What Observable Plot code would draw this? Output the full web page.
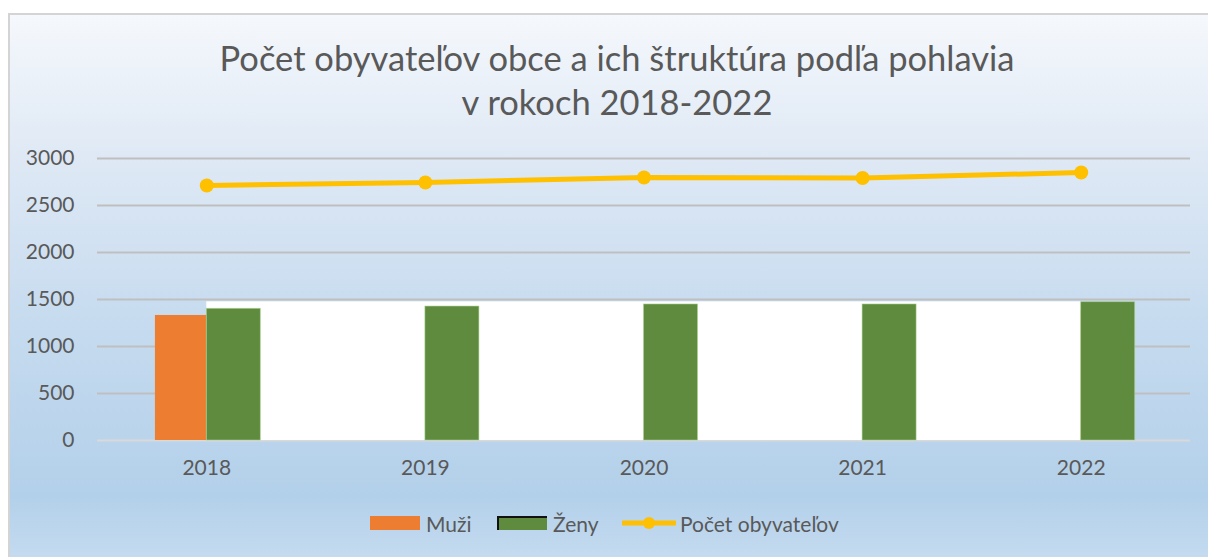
<!DOCTYPE html>
<html>
<head>
<meta charset="utf-8">
<script src="https://cdn.jsdelivr.net/npm/d3@7"></script>
<script src="https://cdn.jsdelivr.net/npm/@observablehq/plot@0.6"></script>
<style>
  html, body { margin: 0; padding: 0; background: #ffffff; }
  body { width: 1208px; height: 557px; overflow: hidden; position: relative; font-family: Lato, "Open Sans", sans-serif; }
  #frame {
    position: absolute; left: 8px; top: 13px; width: 1210px; height: 560px;
    border-left: 2px solid #d4d4d4; border-top: 2px solid #d4d4d4;
    background: linear-gradient(to bottom, #f5f8fc 0%, #dfe9f5 25%, #c6dbef 55%, #b3d0ea 86%, #c9def1 100%);
  }
  #title {
    position: absolute; left: 0; top: 36px; width: 1234px; text-align: center;
    color: #595959; font-size: 34.5px; line-height: 44px;
  }
  #chart { position: absolute; left: 0; top: 130px; }
  #legend {
    position: absolute; top: 508px; left: 0; width: 1208px; height: 30px;
    color: #595959; font-size: 21px;
  }
  .item { position: absolute; top: 0; display: flex; align-items: center; height: 30px; }
  .sw { width: 50px; height: 14px; margin-right: 6px; box-sizing: border-box; }
</style>
</head>
<body>
<div id="frame"></div>
<div id="title">Počet obyvateľov obce a ich štruktúra podľa pohlavia<br>v rokoch 2018-2022</div>
<div id="chart"></div>
<div id="legend">
  <div class="item" style="left:370px"><div class="sw" style="background:#ed7d31"></div><span>Muži</span></div>
  <div class="item" style="left:497px"><div class="sw" style="background:#5e8b3e;border-top:2px solid #111;border-left:2px solid #111"></div><span>Ženy</span></div>
  <div class="item" style="left:622px">
    <svg width="54" height="20" style="margin-right:4px"><line x1="1" y1="10" x2="53" y2="10" stroke="#ffc000" stroke-width="5" stroke-linecap="round"/><circle cx="27" cy="10" r="6" fill="#ffc000"/></svg>
    <span>Počet obyvateľov</span></div>
</div>
<script>
// Data
const years = [2018, 2019, 2020, 2021, 2022];
const muzi = [1330, 1320, 1351, 1346, 1380];
const zeny = [1401, 1425, 1447, 1447, 1471];
const pocet = [2713, 2745, 2798, 2793, 2851];
const yTicks = [0, 500, 1000, 1500, 2000, 2500, 3000];
// white box that hides the later "Muži" bars in the original
const maskFrom = [2018];
const maskTo = [2022];
const maskTop = [1475];

const rows = years.map((y, i) => ({year: y, muzi: muzi[i], zeny: zeny[i], pocet: pocet[i]}));
const mask = maskFrom.map((f, i) => ({from: f, to: maskTo[i], top: maskTop[i]}));
const half = 0.235;

const chart = Plot.plot({
  width: 1208,
  height: 360,
  marginLeft: 97,
  marginRight: 18,
  marginTop: 28,
  marginBottom: 50,
  style: {background: "transparent", fontFamily: "Lato, 'Open Sans', sans-serif", fontSize: "21px", color: "#595959"},
  x: {domain: [2017.5, 2022.5], label: null},
  y: {domain: [0, 3000], label: null},
  marks: [
    Plot.ruleY(yTicks.filter(t => t > 0), {stroke: "#bfbfbf", strokeWidth: 2}),
    Plot.ruleY([0], {stroke: "#d9d9d9", strokeWidth: 2}),
    Plot.rectY(rows, {x1: d => d.year - half, x2: d => d.year, y1: 0, y2: "muzi", fill: "#ed7d31"}),
    Plot.rectY(mask, {x1: "from", x2: "to", y1: 0, y2: "top", fill: "#ffffff"}),
    Plot.rectY(rows, {x1: "year", x2: d => d.year + 0.247, y1: 0, y2: "zeny", fill: "#5e8b3e", stroke: "#a9d18e", strokeWidth: 0.8, strokeOpacity: 0.7}),
    Plot.line(rows, {x: "year", y: "pocet", stroke: "#ffc000", strokeWidth: 5, strokeLinecap: "round"}),
    Plot.dot(rows, {x: "year", y: "pocet", r: 7, fill: "#ffc000"}),
    Plot.axisX({ticks: years, tickFormat: d => String(d), tickSize: 0, tickPadding: 20, fill: "#595959"}),
    Plot.axisY({ticks: yTicks, tickFormat: d => String(d), tickSize: 0, tickPadding: 23, fill: "#595959"})
  ]
});
document.getElementById("chart").appendChild(chart);
</script>
</body>
</html>
